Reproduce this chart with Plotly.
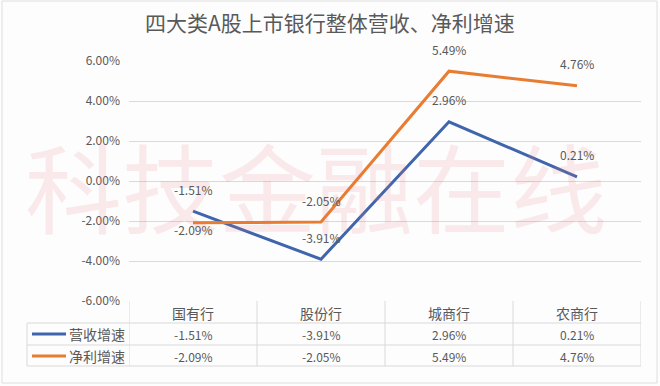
import plotly.graph_objects as go

# ---- data ----
categories = ["国有行", "股份行", "城商行", "农商行"]
series_names = ["营收增速", "净利增速"]
revenue_growth = [-1.51, -3.91, 2.96, 0.21]
profit_growth = [-2.09, -2.05, 5.49, 4.76]
y_ticks = [-6, -4, -2, 0, 2, 4, 6]
title_text = "四大类A股上市银行整体营收、净利增速"
watermark_text = "科技金融在线"

# ---- styles ----
colors = ["#3f65ad", "#e87c30"]
label_pos = [["above", "above", "above", "above"],
             ["below", "above", "above", "above"]]
FONT = "Noto Sans CJK SC, Noto Sans, sans-serif"
TXT = "#595959"
GRID = "#d9d9d9"

W, H = 660, 386
ML, MR, MT, MB = 129, 19, 61, 85
PW = W - ML - MR
PH = H - MT - MB

def px_to_paper_x(px):
    return (px - ML) / PW

def px_to_paper_y(py):
    return (H - MB - py) / PH

fig = go.Figure()
all_series = [revenue_growth, profit_growth]
for name, vals, col in zip(series_names, all_series, colors):
    fig.add_trace(go.Scatter(
        x=categories, y=vals, mode="lines", name=name,
        line=dict(color=col, width=3), showlegend=False, hoverinfo="skip"))

annotations = []
# watermark
annotations.append(dict(
    text=watermark_text, xref="paper", yref="paper",
    x=px_to_paper_x(316), y=px_to_paper_y(183), showarrow=False,
    font=dict(family=FONT, size=97, color="rgba(232,120,120,0.15)"),
    xanchor="center", yanchor="middle"))

# data labels
for vals, poss in zip(all_series, label_pos):
    for c, v, p in zip(categories, vals, poss):
        annotations.append(dict(
            x=c, y=v, xref="x", yref="y", text=f"{v:.2f}%", showarrow=False,
            yshift=22 if p == "above" else -7,
            font=dict(family=FONT, size=12, color=TXT),
            xanchor="center", yanchor="middle"))

# title
annotations.append(dict(
    text=title_text, xref="paper", yref="paper",
    x=px_to_paper_x(330), y=px_to_paper_y(22), showarrow=False,
    font=dict(family=FONT, size=21, color=TXT),
    xanchor="center", yanchor="middle"))

# data table
row_y = [px_to_paper_y(313), px_to_paper_y(334), px_to_paper_y(356)]
for c in categories:
    annotations.append(dict(
        x=c, y=row_y[0], xref="x", yref="paper", text=c, showarrow=False,
        font=dict(family=FONT, size=14, color=TXT),
        xanchor="center", yanchor="middle"))
for ri, (name, vals) in enumerate(zip(series_names, all_series)):
    annotations.append(dict(
        x=px_to_paper_x(127), y=row_y[ri + 1], xref="paper", yref="paper",
        text=name, showarrow=False,
        font=dict(family=FONT, size=14, color=TXT),
        xanchor="right", yanchor="middle"))
    for c, v in zip(categories, vals):
        annotations.append(dict(
            x=c, y=row_y[ri + 1], xref="x", yref="paper", text=f"{v:.2f}%",
            showarrow=False, font=dict(family=FONT, size=12, color=TXT),
            xanchor="center", yanchor="middle"))

shapes = []
y_top = px_to_paper_y(302)
y_r1 = px_to_paper_y(323)
y_r2 = px_to_paper_y(345)
y_bot = px_to_paper_y(366)
x_left = px_to_paper_x(27)
# horizontal table lines
for yy in [y_r1, y_r2, y_bot]:
    shapes.append(dict(type="line", xref="paper", yref="paper",
                       x0=x_left, x1=1, y0=yy, y1=yy,
                       line=dict(color=GRID, width=1)))
# vertical table lines
n = len(categories)
for i in range(n + 1):
    shapes.append(dict(type="line", xref="x", yref="paper",
                       x0=i - 0.5, x1=i - 0.5, y0=0, y1=y_bot,
                       line=dict(color=GRID, width=1)))
shapes.append(dict(type="line", xref="paper", yref="paper",
                   x0=x_left, x1=x_left, y0=y_r1, y1=y_bot,
                   line=dict(color=GRID, width=1)))
# legend keys
for ri, col in enumerate(colors):
    shapes.append(dict(type="line", xref="paper", yref="paper",
                       x0=px_to_paper_x(32), x1=px_to_paper_x(66),
                       y0=row_y[ri + 1], y1=row_y[ri + 1],
                       line=dict(color=col, width=3)))
# outer frame
shapes.append(dict(type="rect", xref="paper", yref="paper",
                   x0=px_to_paper_x(2), x1=px_to_paper_x(657),
                   y0=px_to_paper_y(383), y1=px_to_paper_y(1),
                   line=dict(color="#dedede", width=1)))

fig.update_layout(
    width=W, height=H,
    margin=dict(l=ML, r=MR, t=MT, b=MB),
    paper_bgcolor="#fdfdfe", plot_bgcolor="#fdfdfe",
    font=dict(family=FONT, color=TXT),
    annotations=annotations, shapes=shapes,
    xaxis=dict(range=[-0.5, n - 0.5], showticklabels=False, showgrid=False,
               zeroline=False, showline=False, fixedrange=True),
    yaxis=dict(range=[-6, 6], tickvals=y_ticks,
               ticktext=[f"{t:.2f}%" for t in y_ticks],
               showgrid=True, gridcolor=GRID, gridwidth=1,
               zeroline=False, showline=False,
               tickfont=dict(family=FONT, size=12, color=TXT),
               ticklabelstandoff=8, fixedrange=True),
)

fig.write_html("out.html", config={"displayModeBar": False},
               post_script="document.body.style.margin='0';"
                           "document.body.style.overflow='hidden';")
